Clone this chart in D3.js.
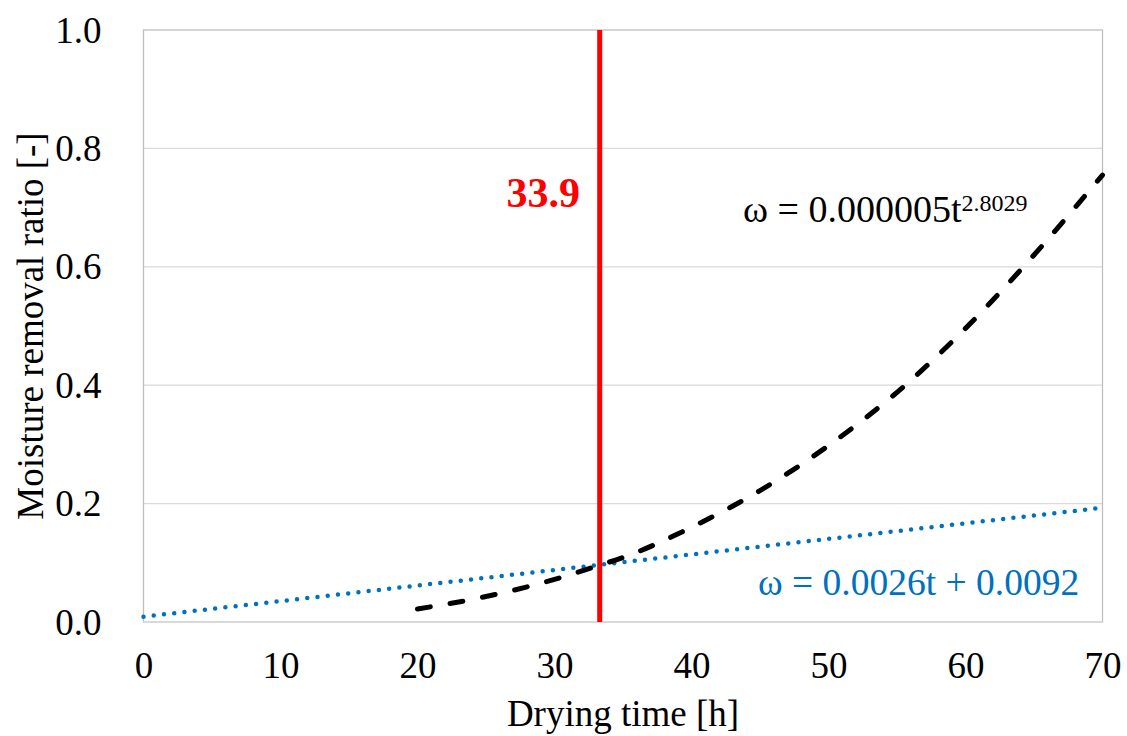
<!DOCTYPE html>
<html>
<head>
<meta charset="utf-8">
<script src="https://cdn.jsdelivr.net/npm/d3@7"></script>
<style>
  html, body { margin: 0; padding: 0; background: #fff; }
  svg { display: block; font-family: "Liberation Serif", "Times New Roman", serif; }
</style>
</head>
<body>
<svg id="chart" width="1127" height="736"></svg>
<script>
// ---- data ----
const xTicks = [0, 10, 20, 30, 40, 50, 60, 70];
const yTicks = [0.0, 0.2, 0.4, 0.6, 0.8, 1.0];

// power fit (black dashed)
const powerT = [20, 25, 30, 33.3, 35, 40, 45, 50, 55, 60, 65, 70];
const powerW = [0.022, 0.043, 0.072, 0.096, 0.109, 0.160, 0.222, 0.298, 0.388, 0.496, 0.620, 0.755];

// linear fit (blue dotted)
const linearT = [0, 70];
const linearW = [0.009, 0.193];

// intersection marker
const markerT = 33.3;
const markerLabel = "33.9";

const xTitle = "Drying time [h]";
const yTitle = "Moisture removal ratio [-]";
const powerEq = "ω = 0.000005t";
const powerExp = "2.8029";
const linearEq = "ω = 0.0026t + 0.0092";

// ---- layout ----
const svg = d3.select("#chart");
const pL = 143.5, pR = 1102.5, pT = 30, pB = 622;

const x = d3.scaleLinear().domain([0, 70]).range([pL, pR]);
const y = d3.scaleLinear().domain([0, 1]).range([pB, pT]);

// gridlines
svg.append("g")
  .selectAll("line")
  .data(yTicks.filter(v => v > 0 && v < 1))
  .join("line")
  .attr("x1", pL).attr("x2", pR)
  .attr("y1", d => y(d)).attr("y2", d => y(d))
  .attr("stroke", "#d9d9d9").attr("stroke-width", 1.3);

// plot border
svg.append("rect")
  .attr("x", pL).attr("y", pT)
  .attr("width", pR - pL).attr("height", pB - pT)
  .attr("fill", "none").attr("stroke", "#bfbfbf").attr("stroke-width", 1.3);
svg.append("line")
  .attr("x1", pL).attr("x2", pR).attr("y1", pB).attr("y2", pB)
  .attr("stroke", "#d9d9d9").attr("stroke-width", 2);

// axes
const xAxis = svg.append("g")
  .attr("transform", `translate(0,${pB})`)
  .call(d3.axisBottom(x).tickValues(xTicks).tickSize(0).tickPadding(0).tickFormat(d3.format("d")));
xAxis.select(".domain").remove();
xAxis.selectAll("text")
  .attr("y", 56).attr("dy", null)
  .attr("font-family", "Liberation Serif, serif")
  .attr("font-size", 37).attr("fill", "#000");

const yAxis = svg.append("g")
  .attr("transform", `translate(${pL},0)`)
  .call(d3.axisLeft(y).tickValues(yTicks).tickSize(0).tickPadding(0).tickFormat(d3.format(".1f")));
yAxis.select(".domain").remove();
yAxis.selectAll("text")
  .attr("x", -42).attr("dy", null).attr("y", 12)
  .attr("font-family", "Liberation Serif, serif")
  .attr("font-size", 37).attr("fill", "#000");

// axis titles
svg.append("text")
  .attr("x", (pL + pR) / 2).attr("y", 726)
  .attr("text-anchor", "middle")
  .attr("font-size", 37).attr("fill", "#000")
  .text(xTitle);

svg.append("text")
  .attr("transform", `translate(43,${(pT + pB) / 2}) rotate(-90)`)
  .attr("text-anchor", "middle")
  .attr("font-size", 37).attr("fill", "#000")
  .text(yTitle);

// linear fit (dotted)
const linData = linearT.map((t, i) => [t, linearW[i]]);
svg.append("path")
  .datum(linData)
  .attr("d", d3.line().x(d => x(d[0])).y(d => y(d[1])))
  .attr("fill", "none")
  .attr("stroke", "#0070C0")
  .attr("stroke-width", 4.5)
  .attr("stroke-linecap", "round")
  .attr("stroke-dasharray", "0 10.3");

// power fit (dashed)
const powData = powerT.map((t, i) => [t, powerW[i]]);
svg.append("path")
  .datum(powData)
  .attr("d", d3.line().curve(d3.curveMonotoneX).x(d => x(d[0])).y(d => y(d[1])))
  .attr("fill", "none")
  .attr("stroke", "#000")
  .attr("stroke-width", 5)
  .attr("stroke-linecap", "round")
  .attr("stroke-dasharray", "13 20");

// red vertical marker
svg.append("line")
  .attr("x1", x(markerT)).attr("x2", x(markerT))
  .attr("y1", pT).attr("y2", pB)
  .attr("stroke", "#FF0000").attr("stroke-width", 5);

svg.append("text")
  .attr("x", 580).attr("y", 207)
  .attr("text-anchor", "end")
  .attr("font-size", 42).attr("font-weight", "bold").attr("fill", "#FF0000")
  .text(markerLabel);

// equations
const pe = svg.append("text")
  .attr("x", 743).attr("y", 222)
  .attr("font-size", 38).attr("fill", "#000");
pe.append("tspan").text(powerEq);
pe.append("tspan").attr("dy", -11).attr("font-size", 24).text(powerExp);

svg.append("text")
  .attr("x", 758).attr("y", 595)
  .attr("font-size", 37.5).attr("fill", "#0070C0")
  .text(linearEq);
</script>
</body>
</html>
